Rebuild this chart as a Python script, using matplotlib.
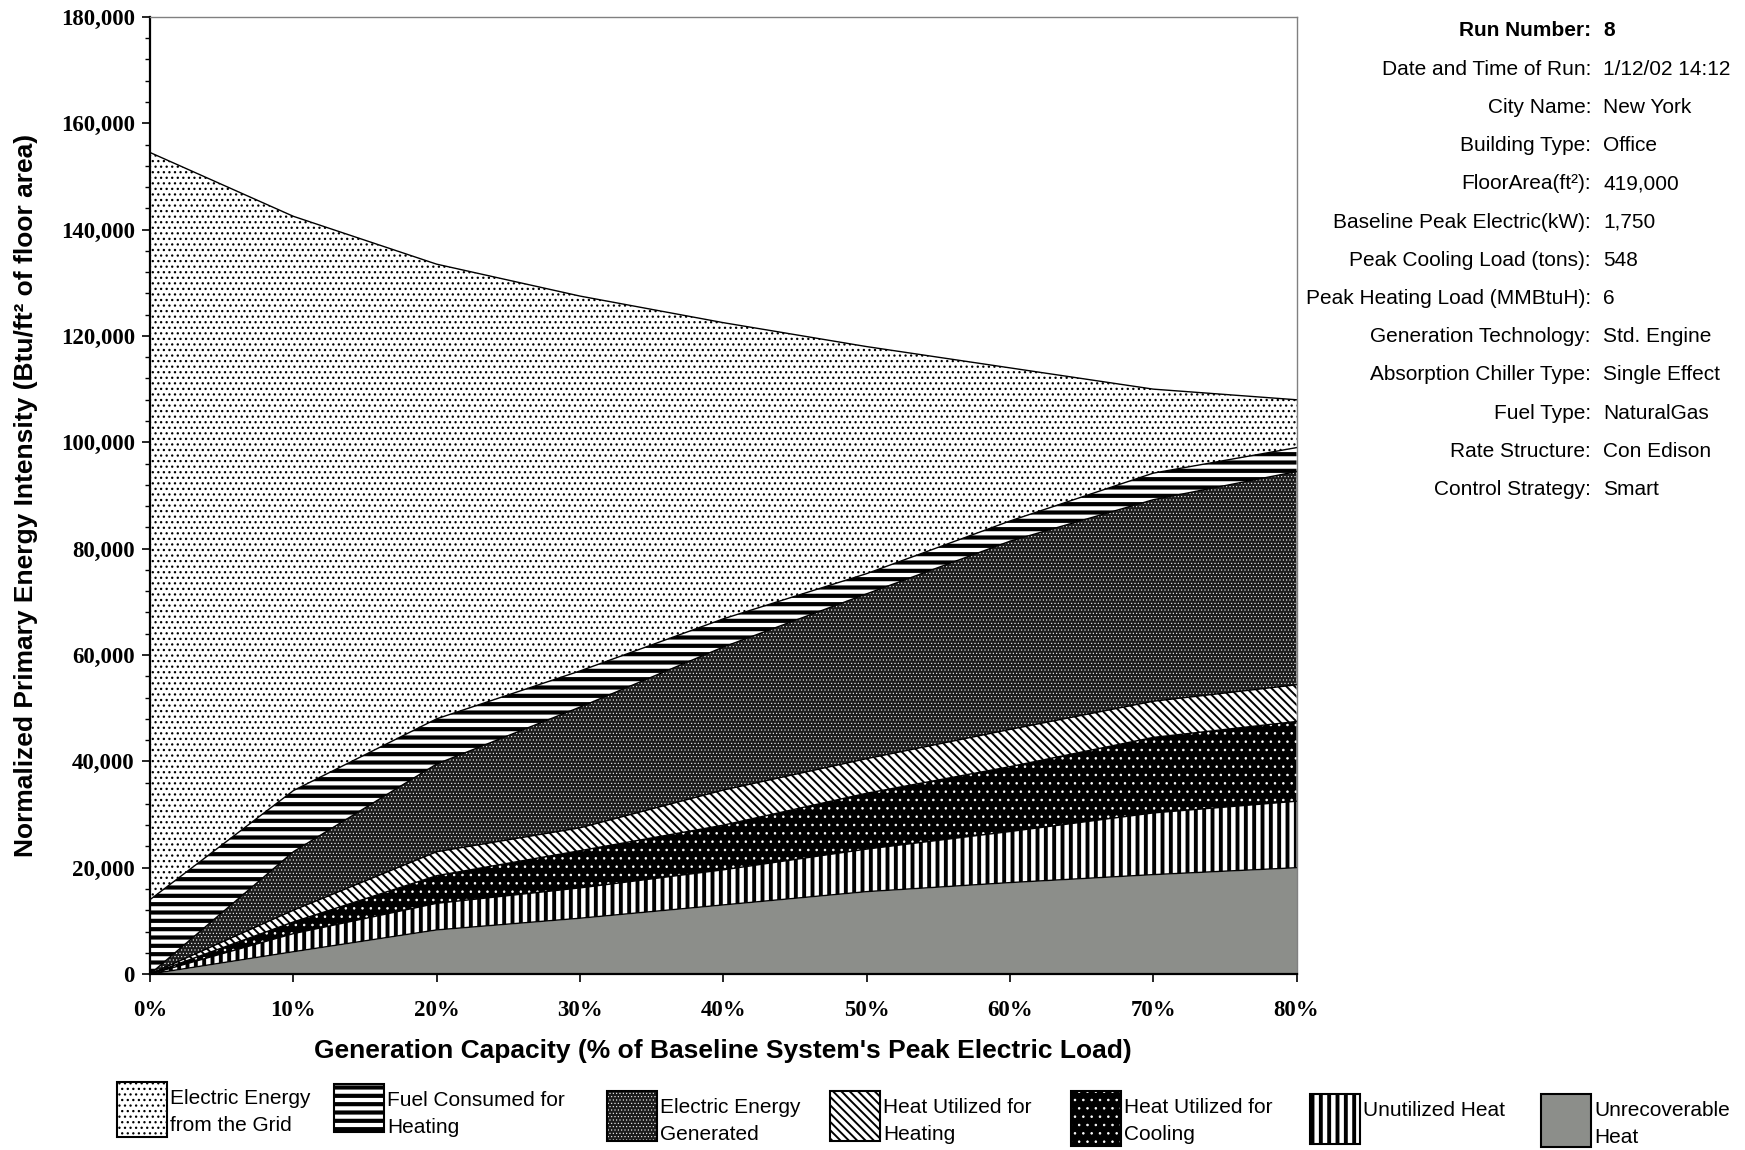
import matplotlib
matplotlib.use("Agg")
import matplotlib.pyplot as plt
import matplotlib.patches as patches
from matplotlib.ticker import MultipleLocator, FuncFormatter
import numpy as np

# values (Btu/ft2 of floor area) at each 10% step
capacity = [0, 10, 20, 30, 40, 50, 60, 70, 80]
unrecoverable_heat = [0, 4200, 8300, 10500, 13000, 15500, 17200, 18700, 20000]
unutilized_heat = [0, 3400, 5000, 5700, 6600, 8000, 9600, 11600, 12500]
heat_cooling = [0, 2200, 5200, 7000, 8400, 10500, 12200, 14200, 15000]
heat_heating = [0, 2200, 4500, 4300, 6600, 6500, 7000, 6800, 6900]
elec_generated = [0, 11000, 16500, 22700, 26900, 31000, 35400, 37900, 40100]
fuel_heating = [14000, 11500, 8500, 6800, 5300, 3800, 3800, 5000, 4500]
elec_grid = [140500, 108000, 85500, 70500, 55700, 42700, 28800, 15800, 9000]

layer_names = ["Unrecoverable\nHeat", "Unutilized Heat", "Heat Utilized for\nCooling",
               "Heat Utilized for\nHeating", "Electric Energy\nGenerated",
               "Fuel Consumed for\nHeating", "Electric Energy\nfrom the Grid"]

# run info panel
info_labels = ["Run Number:", "Date and Time of Run:", "City Name:", "Building Type:",
               "FloorArea(ft\u00b2):", "Baseline Peak Electric(kW):", "Peak Cooling Load (tons):",
               "Peak Heating Load (MMBtuH):", "Generation Technology:", "Absorption Chiller Type:",
               "Fuel Type:", "Rate Structure:", "Control Strategy:"]
info_values = ["8", "1/12/02 14:12", "New York", "Office", "419,000", "1,750", "548", "6",
               "Std. Engine", "Single Effect", "NaturalGas", "Con Edison", "Smart"]

# fill styles, bottom -> top: facecolor, hatch colour, hatch, hatch linewidth
styles = [
    ("#8c8e8a", "#8c8e8a", None, 1.0),
    ("white", "black", "||", 2.8),
    ("black", "white", "..", 0.6),
    ("white", "black", "\\\\\\\\", 1.4),
    ("#1c1c1c", "white", ".....", 0.4),
    ("white", "black", "--", 3.0),
    ("white", "black", "...", 0.9),
]


def hatched_fill(ax, x, lo, hi, style):
    fc, hc, hatch, hlw = style
    with plt.rc_context({"hatch.linewidth": hlw}):
        coll = ax.fill_between(x, lo, hi, facecolor=fc, edgecolor=hc, hatch=hatch, linewidth=0)
    if hasattr(coll, "set_hatch_linewidth"):
        coll.set_hatch_linewidth(hlw)
    return coll


def legend_box(fig, x, y, w, h, style):
    fc, hc, hatch, hlw = style
    with plt.rc_context({"hatch.linewidth": hlw}):
        p = patches.Rectangle((x, y), w, h, transform=fig.transFigure, facecolor=fc,
                              edgecolor=hc, hatch=hatch, linewidth=0)
    if hasattr(p, "set_hatch_linewidth"):
        p.set_hatch_linewidth(hlw)
    fig.add_artist(p)
    fig.add_artist(patches.Rectangle((x, y), w, h, transform=fig.transFigure,
                                     facecolor="none", edgecolor="black", linewidth=1.5))


fig = plt.figure(figsize=(17.45, 11.5), dpi=100)
ax = fig.add_axes([0.086, 0.153, 0.657, 0.8323])

layers = [unrecoverable_heat, unutilized_heat, heat_cooling, heat_heating,
          elec_generated, fuel_heating, elec_grid]
x = np.array(capacity)
base = np.zeros(len(x))
tops = []
for vals, st in zip(layers, styles):
    top = base + np.array(vals)
    hatched_fill(ax, x, base, top, st)
    tops.append(top)
    base = top
for top in tops:
    ax.plot(x, top, color="black", linewidth=1.0)

ax.set_xlim(0, 80)
ax.set_ylim(0, 180000)
ax.set_xticks(range(0, 81, 10))
ax.xaxis.set_major_formatter(FuncFormatter(lambda v, p: f"{int(v)}%"))
ax.yaxis.set_major_locator(MultipleLocator(20000))
ax.yaxis.set_minor_locator(MultipleLocator(4000))
ax.yaxis.set_major_formatter(FuncFormatter(lambda v, p: f"{int(v):,}"))

for lab in ax.get_xticklabels() + ax.get_yticklabels():
    lab.set_fontfamily("Liberation Serif")
    lab.set_fontweight("bold")
    lab.set_fontsize(16.5)
ax.tick_params(axis="both", which="major", direction="out", length=6, width=1.2, pad=5)
ax.tick_params(axis="y", which="minor", direction="out", length=3.5, width=1.0)
ax.tick_params(axis="x", pad=13)

for s in ["left", "bottom"]:
    ax.spines[s].set_color("black")
    ax.spines[s].set_linewidth(1.6)
for s in ["top", "right"]:
    ax.spines[s].set_color("#808080")
    ax.spines[s].set_linewidth(1.0)

ax.set_xlabel("Generation Capacity (% of Baseline System's Peak Electric Load)",
              fontfamily="Liberation Sans", fontweight="bold", fontsize=19)
ax.xaxis.set_label_coords(0.5, -0.068)
ax.set_ylabel("Normalized Primary Energy Intensity (Btu/ft\u00b2 of floor area)",
              fontfamily="Liberation Sans", fontweight="bold", fontsize=19)
ax.yaxis.set_label_coords(-0.098, 0.5)

# run information panel on the right
W, H = 1745.0, 1150.0
for i, (lab, val) in enumerate(zip(info_labels, info_values)):
    yy = 1 - (31 + i * 38.2) / H
    wt = "bold" if i == 0 else "normal"
    fig.text(1591 / W, yy, lab, ha="right", va="center", fontsize=15,
             fontfamily="Liberation Sans", fontweight=wt)
    fig.text(1603 / W, yy, val, ha="left", va="center", fontsize=15,
             fontfamily="Liberation Sans", fontweight=wt)

# legend along the bottom (order: grid first, unrecoverable last)
leg_box_x = [117, 334, 607, 830, 1071, 1310, 1541]
leg_box_top = [1082, 1084, 1091, 1091, 1091, 1094, 1094]
leg_box_h = [55, 48, 50, 50, 55, 50, 53]
for k, i in enumerate(range(len(layers) - 1, -1, -1)):
    bx = leg_box_x[k] / W
    by = 1 - (leg_box_top[k] + leg_box_h[k]) / H
    legend_box(fig, bx, by, 50 / W, leg_box_h[k] / H, styles[i])
    name = layer_names[i]
    ty = 1 - (leg_box_top[k] + 7) / H
    fig.text(bx + 53 / W, ty, name, ha="left", va="top", fontsize=15,
             fontfamily="Liberation Sans", linespacing=1.55)

fig.savefig("out.png", dpi=100)
